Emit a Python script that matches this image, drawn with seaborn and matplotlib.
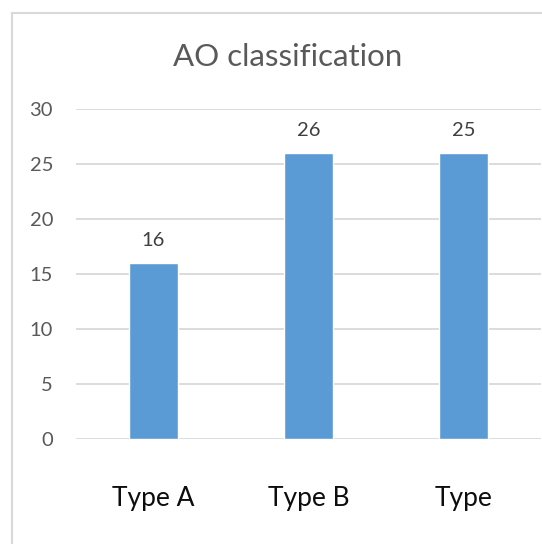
import matplotlib
matplotlib.use("Agg")
import matplotlib.pyplot as plt
from matplotlib.patches import Rectangle
import seaborn as sns
import pandas as pd

# chart data
categories = ["Type A", "Type B", "Type"]
counts = [16, 26, 26]
bar_labels = ["16", "26", "25"]
y_ticks = [0, 5, 10, 15, 20, 25, 30]

sns.set_theme(style="white")
plt.rcParams['font.family'] = ['Lato', 'DejaVu Sans']

df = pd.DataFrame({"category": categories, "count": counts})

fig = plt.figure(figsize=(5.42, 5.44), dpi=100)
ax = fig.add_axes([76 / 542, 1 - 439 / 544, (541 - 76) / 542, (439 - 109) / 544])

sns.barplot(data=df, x="category", y="count", color="#5b9bd5", saturation=1,
            width=0.32, ax=ax, zorder=3)

ax.set_ylim(0, 30)
ax.set_yticks(y_ticks)
ax.set_xlim(-0.5, len(categories) - 0.5)
ax.yaxis.grid(True, color="#d9d9d9", linewidth=1.3, zorder=0)
ax.set_axisbelow(True)
for s in ax.spines.values():
    s.set_visible(False)
ax.set_xlabel("")
ax.set_ylabel("")
ax.tick_params(axis="y", length=0, pad=16.5, labelsize=14.5, labelcolor="#595959")
ax.tick_params(axis="x", length=0, pad=34, labelsize=19, labelcolor="#0d0d0d")

for i, lab in enumerate(bar_labels):
    ax.annotate(lab, (i, counts[i]), xytext=(0, 10), textcoords="offset points",
                ha="center", va="bottom", fontsize=14.5, color="#404040")

fig.text(0.530, 1 - 57 / 544, "AO classification", ha="center", va="center",
         fontsize=22.5, color="#595959")

# chart area border (runs off the right and bottom of the crop)
fig.patches.append(Rectangle((12 / 542, -0.1), 1.0, (544 - 13) / 544 + 0.1,
                             transform=fig.transFigure, fill=False,
                             edgecolor="#d9d9d9", linewidth=1.5))

fig.savefig("out.png", dpi=100)
